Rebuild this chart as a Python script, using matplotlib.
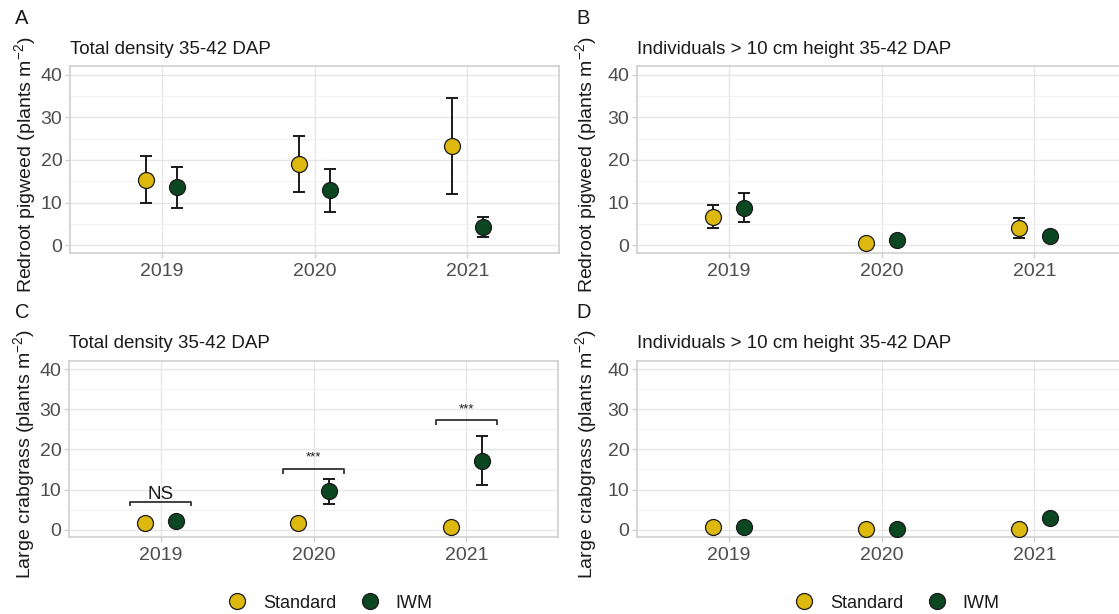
import matplotlib
matplotlib.use("Agg")
import matplotlib.pyplot as plt
from matplotlib.lines import Line2D
import numpy as np

plt.rcParams['font.family'] = ['Liberation Sans', 'DejaVu Sans']
plt.rcParams['mathtext.fontset'] = 'custom'
plt.rcParams['mathtext.rm'] = 'Liberation Sans'
plt.rcParams['mathtext.it'] = 'Liberation Sans:italic'

years = ["2019", "2020", "2021"]
treatments = ["Standard", "IWM"]
colors = {"Standard": "#DDB80F", "IWM": "#0B4720"}

# Panel A: redroot pigweed total density
A_std = [15.2, 19.0, 23.3]
A_std_lo = [9.8, 12.5, 12.0]
A_std_hi = [20.9, 25.6, 34.6]
A_iwm = [13.6, 12.9, 4.2]
A_iwm_lo = [8.7, 7.9, 1.9]
A_iwm_hi = [18.4, 17.8, 6.6]

# Panel B: redroot pigweed > 10 cm
B_std = [6.7, 0.5, 4.0]
B_std_lo = [4.1, 0.1, 1.6]
B_std_hi = [9.5, 0.9, 6.4]
B_iwm = [8.8, 1.2, 2.1]
B_iwm_lo = [5.5, 0.4, 1.2]
B_iwm_hi = [12.2, 2.0, 3.0]

# Panel C: large crabgrass total density
C_std = [1.8, 1.6, 0.6]
C_std_lo = [1.0, 0.8, 0.2]
C_std_hi = [2.6, 2.4, 1.0]
C_iwm = [2.1, 9.6, 17.1]
C_iwm_lo = [1.2, 6.4, 11.2]
C_iwm_hi = [3.0, 12.7, 23.4]

# Panel D: large crabgrass > 10 cm
D_std = [0.6, 0.3, 0.1]
D_std_lo = [0.2, 0.0, 0.0]
D_std_hi = [1.0, 0.6, 0.3]
D_iwm = [0.8, 0.1, 3.0]
D_iwm_lo = [0.3, 0.0, 2.0]
D_iwm_hi = [1.3, 0.3, 4.0]

# Significance annotations for panel C
C_sig_labels = ["NS", "***", "***"]
C_sig_y = [7.0, 15.2, 27.3]

panels = [
    ("A", "Total density 35-42 DAP", "Redroot pigweed (plants m$^{-2}$)",
     (A_std, A_std_lo, A_std_hi), (A_iwm, A_iwm_lo, A_iwm_hi)),
    ("B", "Individuals > 10 cm height 35-42 DAP", "Redroot pigweed (plants m$^{-2}$)",
     (B_std, B_std_lo, B_std_hi), (B_iwm, B_iwm_lo, B_iwm_hi)),
    ("C", "Total density 35-42 DAP", "Large crabgrass (plants m$^{-2}$)",
     (C_std, C_std_lo, C_std_hi), (C_iwm, C_iwm_lo, C_iwm_hi)),
    ("D", "Individuals > 10 cm height 35-42 DAP", "Large crabgrass (plants m$^{-2}$)",
     (D_std, D_std_lo, D_std_hi), (D_iwm, D_iwm_lo, D_iwm_hi)),
]

W, H = 1119, 614
fig = plt.figure(figsize=(W / 100, H / 100), dpi=100)

def px_axes(left, top, right, bottom):
    return fig.add_axes([left / W, 1 - bottom / H, (right - left) / W, (bottom - top) / H])

axw = 489
boxes = [
    (70, 66, 70 + axw, 253),
    (637, 66, 637 + axw, 253),
    (69, 361, 69 + axw, 537),
    (637, 361, 637 + axw, 537),
]
label_pos = [(15, 19), (576, 19), (15, 313), (576, 313)]

grey_txt = "#4D4D4D"
border = "#D0D0D0"
major = "#E6E6E6"
minor = "#F2F2F2"

x = np.arange(len(years))
dodge = 0.1

for i, (lab, title, ylab, std, iwm) in enumerate(panels):
    ax = px_axes(*boxes[i])
    ax.set_xlim(-0.6, len(years) - 1 + 0.6)
    ax.set_ylim(-1.8, 42)
    ax.set_yticks([0, 10, 20, 30, 40])
    ax.set_yticks([5, 15, 25, 35], minor=True)
    ax.set_xticks(x)
    ax.set_xticklabels(years)
    ax.grid(True, which='major', color=major, lw=1.0, zorder=0)
    ax.grid(True, which='minor', axis='y', color=minor, lw=0.8, zorder=0)
    ax.set_axisbelow(True)
    for s in ax.spines.values():
        s.set_color(border)
        s.set_linewidth(1.2)
    ax.tick_params(axis='both', which='major', colors=border, labelcolor=grey_txt,
                   labelsize=14, length=3.5, width=1)
    ax.tick_params(axis='y', which='minor', length=0)
    ax.tick_params(axis='x', pad=4)
    ax.tick_params(axis='y', pad=2)

    for (vals, lo, hi), off, tr in [(std, -dodge, "Standard"), (iwm, dodge, "IWM")]:
        vals = np.array(vals); lo = np.array(lo); hi = np.array(hi)
        ax.errorbar(x + off, vals, yerr=[vals - lo, hi - vals], fmt='none',
                    ecolor='#1a1a1a', elinewidth=1.4, capsize=4.5, capthick=1.4, zorder=3)
        ax.plot(x + off, vals, 'o', ms=11.5, mfc=colors[tr], mec='#1a1a1a', mew=0.9,
                zorder=4, linestyle='none')

    ax.set_title(title, loc='left', fontsize=13.5, color='#1a1a1a', pad=9)
    ax.set_ylabel(ylab, fontsize=14, color='#1a1a1a')
    ax.yaxis.set_label_coords(-0.066 if i % 2 == 0 else -0.078, 0.47)
    fig.text(label_pos[i][0] / W, 1 - label_pos[i][1] / H, lab, fontsize=14.5,
             ha='left', va='center', color='#1a1a1a')

    if lab == "C":
        for j, (sl, sy) in enumerate(zip(C_sig_labels, C_sig_y)):
            x0, x1 = x[j] - 0.2, x[j] + 0.2
            ax.plot([x0, x0, x1, x1], [sy - 1.2, sy, sy, sy - 1.2], color='#333333',
                    lw=1.3, zorder=3, solid_capstyle='butt')
            if sl == "NS":
                ax.text(x[j], sy - 0.3, sl, ha='center', va='bottom', fontsize=13.5,
                        color='#1a1a1a')
            else:
                ax.text(x[j], sy + 1.2, sl, ha='center', va='bottom', fontsize=9.5,
                        color='#1a1a1a')

handles = [Line2D([], [], marker='o', ms=11.5, mfc=colors[t], mec='#1a1a1a', mew=0.9,
                  linestyle='none') for t in treatments]
for cx in [326 / W, 893 / W]:
    fig.legend(handles, treatments, loc='center', bbox_to_anchor=(cx, 1 - 603 / H),
               ncol=2, frameon=False, fontsize=13, handletextpad=0.4,
               columnspacing=0.9, labelcolor='#1a1a1a')

fig.savefig("out.png", dpi=100, facecolor='white')
